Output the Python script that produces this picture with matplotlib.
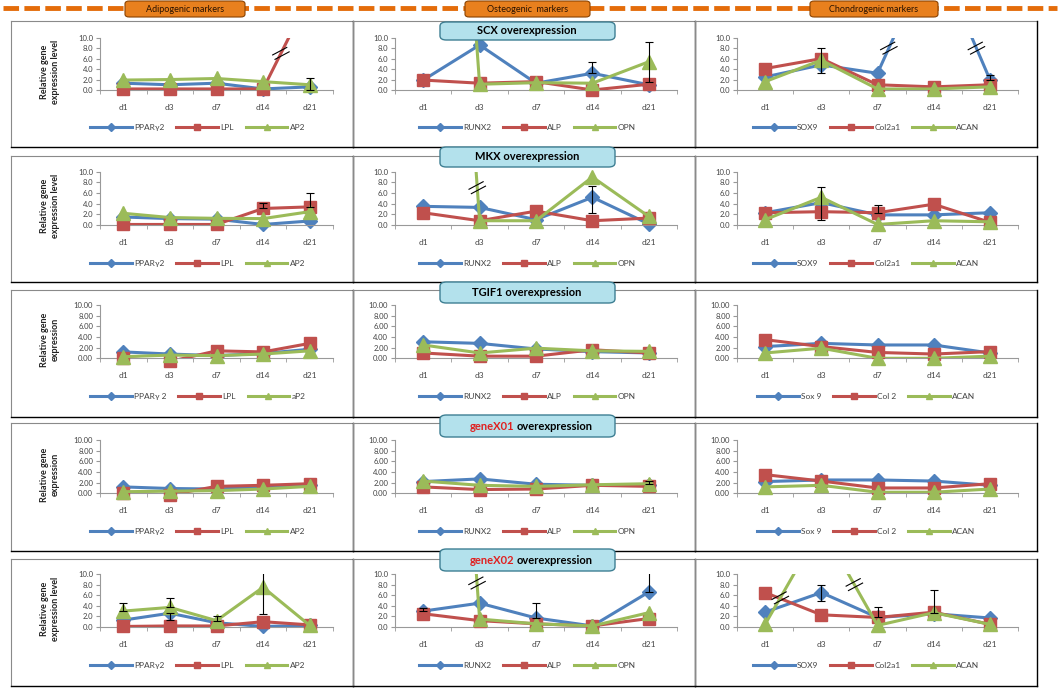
import matplotlib.pyplot as plt
from matplotlib.patches import FancyBboxPatch
from matplotlib.lines import Line2D
import numpy as np

plt.rcParams['font.family'] = ['Lato', 'DejaVu Sans']

W, H = 1060, 695

days = ["d1", "d3", "d7", "d14", "d21"]
genes = ["SCX", "MKX", "TGIF1", "geneX01", "geneX02"]
groups = ["Adipogenic markers", "Osteogenic  markers", "Chondrogenic markers"]

adipo_names = ["PPARγ2", "LPL", "AP2"]
adipo_names_b = ["PPARγ 2", "LPL", "aP2"]
osteo_names = ["RUNX2", "ALP", "OPN"]
chondro_names = ["SOX9", "Col2a1", "ACAN"]
chondro_names_b = ["Sox 9", "Col 2", "ACAN"]

# each panel: [blue series, red series, green series], values above 10 run off the chart
scx_adipo = [[1.3, 1.0, 1.3, 0.2, 0.6], [0.2, 0.2, 0.2, 0.2, 18.0], [1.9, 2.0, 2.2, 1.6, 1.0]]
scx_osteo = [[1.9, 8.6, 1.3, 3.2, 1.0], [1.9, 1.3, 1.6, 0.0, 1.1], [150.0, 1.1, 1.4, 1.3, 5.4]]
scx_chondro = [[2.5, 4.8, 3.2, 27.0, 2.0], [4.1, 6.0, 1.0, 0.6, 1.0], [1.6, 5.7, 0.2, 0.2, 0.6]]
mkx_adipo = [[1.5, 1.2, 1.1, 0.1, 0.75], [0.1, 0.1, 0.1, 3.1, 3.4], [2.2, 1.4, 1.25, 1.2, 2.5]]
mkx_osteo = [[3.5, 3.3, 1.0, 5.2, 0.2], [2.3, 0.8, 2.6, 0.8, 1.3], [150.0, 0.8, 0.8, 9.0, 1.6]]
mkx_chondro = [[2.3, 4.2, 1.9, 1.9, 2.3], [2.3, 2.5, 2.3, 3.9, 0.5], [1.0, 5.2, 0.1, 0.8, 0.6]]
tgif1_adipo = [[1.2, 0.8, 0.5, 0.9, 1.7], [0.0, -0.6, 1.4, 1.2, 2.8], [0.3, 0.6, 0.5, 0.8, 1.4]]
tgif1_osteo = [[3.1, 2.8, 1.75, 1.25, 1.0], [1.0, 0.4, 0.4, 1.6, 1.0], [2.5, 1.0, 1.9, 1.4, 1.3]]
tgif1_chondro = [[2.2, 2.8, 2.5, 2.5, 1.0], [3.5, 2.2, 1.1, 0.8, 1.25], [1.0, 1.9, 0.0, 0.0, 0.4]]
x01_adipo = [[1.2, 0.9, 0.8, 1.2, 1.6], [0.0, -0.3, 1.3, 1.5, 1.8], [0.3, 0.4, 0.5, 0.8, 1.3]]
x01_osteo = [[2.2, 2.7, 1.7, 1.5, 1.5], [1.2, 0.7, 0.8, 1.5, 1.3], [2.3, 1.5, 1.3, 1.6, 1.8]]
x01_chondro = [[2.2, 2.5, 2.5, 2.3, 1.5], [3.5, 2.3, 1.0, 1.0, 1.8], [1.2, 1.5, 0.2, 0.2, 0.8]]
x02_adipo = [[1.3, 2.6, 0.8, 0.1, 0.3], [0.1, 0.2, 0.2, 1.0, 0.4], [3.0, 3.7, 1.2, 7.5, 0.3]]
x02_osteo = [[3.0, 4.5, 1.7, 0.2, 6.6], [2.5, 1.2, 0.6, 0.2, 1.6], [150.0, 1.5, 0.6, 0.2, 2.7]]
x02_chondro = [[2.8, 6.5, 1.8, 2.5, 1.7], [6.5, 2.3, 1.8, 2.8, 0.5], [0.5, 19.0, 0.3, 2.7, 0.5]]

# error bars: (series, day index, minus, plus)
scx_adipo_err = [(2, 4, 1.0, 1.3)]
scx_osteo_err = [(0, 3, 0.0, 2.2), (2, 4, 3.8, 3.8)]
scx_chondro_err = [(1, 1, 2.8, 2.0), (0, 4, 0.0, 0.8)]
mkx_adipo_err = [(1, 3, 0.0, 1.0), (1, 4, 0.0, 2.6)]
mkx_osteo_err = [(0, 3, 2.9, 2.2)]
mkx_chondro_err = [(2, 1, 4.2, 1.9), (1, 2, 0.0, 1.4)]
x01_osteo_err = [(2, 4, 0.0, 0.5)]
x02_adipo_err = [(2, 0, 0.0, 1.5), (2, 1, 0.0, 1.8), (2, 2, 0.0, 0.9), (2, 3, 5.1, 4.0), (0, 1, 1.3, 0.0)]
x02_osteo_err = [(0, 0, 0.0, 0.6), (0, 2, 0.0, 2.8), (0, 4, 0.0, 4.0)]
x02_chondro_err = [(0, 1, 1.5, 1.5), (1, 2, 0.0, 2.0), (2, 3, 0.0, 4.3)]

# axis break marks: (series, segment start, value where the mark sits)
scx_adipo_brk = [(1, 3, 7.0)]
scx_chondro_brk = [(0, 2, 8.0), (0, 3, 8.0)]
mkx_osteo_brk = [(2, 0, 7.0)]
x02_osteo_brk = [(2, 0, 8.3)]
x02_chondro_brk = [(2, 0, 5.5), (2, 1, 8.0)]

panels = [
    [(scx_adipo, scx_adipo_err, scx_adipo_brk), (scx_osteo, scx_osteo_err, []), (scx_chondro, scx_chondro_err, scx_chondro_brk)],
    [(mkx_adipo, mkx_adipo_err, []), (mkx_osteo, mkx_osteo_err, mkx_osteo_brk), (mkx_chondro, mkx_chondro_err, [])],
    [(tgif1_adipo, [], []), (tgif1_osteo, [], []), (tgif1_chondro, [], [])],
    [(x01_adipo, [], []), (x01_osteo, x01_osteo_err, []), (x01_chondro, [], [])],
    [(x02_adipo, x02_adipo_err, []), (x02_osteo, x02_osteo_err, x02_osteo_brk), (x02_chondro, x02_chondro_err, x02_chondro_brk)],
]
names = [
    [adipo_names, osteo_names, chondro_names],
    [adipo_names, osteo_names, chondro_names],
    [adipo_names_b, osteo_names, chondro_names_b],
    [adipo_names, osteo_names, chondro_names_b],
    [adipo_names, osteo_names, chondro_names],
]

colors = ["#4F81BD", "#C0504D", "#9BBB59"]
markers = ["D", "s", "^"]
msizes = [7.5, 8.5, 10]

col_x = [(100, 333), (395, 677), (737, 1018)]
row_y = [(37.7, 90), (171.7, 225), (305, 358.3), (440, 493.3), (574, 627)]
frame_y = [(21, 147), (156, 282), (290, 417), (423, 551), (559, 686)]
frame_x = [11, 353, 695, 1037]
legend_x = [0.42, 0.47, 0.46]


def px(x, y):
    return x / W, 1 - y / H


fig = plt.figure(figsize=(W / 100, H / 100), dpi=100)


def fig_line(x0, y0, x1, y1, **kw):
    a = px(x0, y0)
    b = px(x1, y1)
    fig.add_artist(Line2D([a[0], b[0]], [a[1], b[1]], transform=fig.transFigure, **kw))


# frames
for r, (t, b) in enumerate(frame_y):
    for c in range(3):
        l, rr = frame_x[c], frame_x[c + 1]
        fig_line(l, t, rr, t, color="#8a8a8a", lw=0.8)
        fig_line(l, t, l, b, color="#8a8a8a", lw=0.8)
        fig_line(rr, t, rr, b, color="black", lw=1.0)
        fig_line(l, b, rr, b, color="black", lw=1.0)

x = np.arange(len(days))
for r in range(5):
    for c in range(3):
        vals, errs, brks = panels[r][c]
        x0, x1 = col_x[c]
        yt, yb = row_y[r]
        l, btm = px(x0, yb)
        ax = fig.add_axes([l, btm, (x1 - x0) / W, (yb - yt) / H])
        ax.set_xlim(-0.5, 4.5)
        ax.set_ylim(0, 10)
        for s in ("top", "right"):
            ax.spines[s].set_visible(False)
        for s in ("left", "bottom"):
            ax.spines[s].set_color("#999999")
            ax.spines[s].set_linewidth(0.8)
        ax.set_yticks(np.arange(0, 11, 2))
        fmt = "{:.2f}" if r in (2, 3) else "{:.1f}"
        ax.set_yticklabels([fmt.format(v) for v in np.arange(0, 11, 2)])
        ax.set_xticks(x)
        ax.set_xticklabels(days)
        ax.set_xticks(np.arange(-0.5, 5, 1), minor=True)
        ax.tick_params(axis="x", which="major", length=0, pad=10, labelsize=6, labelcolor="#444444")
        ax.tick_params(axis="x", which="minor", length=3, color="#999999")
        ax.tick_params(axis="y", length=3, color="#999999", labelsize=5.5, labelcolor="#444444", pad=2)
        ax.patch.set_alpha(0)

        handles = []
        for i, v in enumerate(vals):
            v = np.array(v, dtype=float)
            ax.plot(x, v, color=colors[i], lw=2.2, zorder=2 + i)
            vm = np.where(v <= 10.5, v, np.nan)
            ax.plot(x, vm, ls="none", marker=markers[i], ms=msizes[i], color=colors[i],
                    mec=colors[i], clip_on=False, zorder=2 + i)
            handles.append(Line2D([], [], color=colors[i], lw=2.2, marker=markers[i], ms=4))
        for s, d, lo, up in errs:
            ax.errorbar([d], [vals[s][d]], yerr=[[lo], [up]], fmt="none", ecolor="black",
                        elinewidth=0.8, capsize=3, capthick=0.8, zorder=6)
        for s, seg, yv in brks:
            ya, yb2 = vals[s][seg], vals[s][seg + 1]
            xb = seg + (yv - ya) / (yb2 - ya)
            cx, cy = ax.transData.transform((xb, yv))
            ang = np.radians(28)
            dx, dy = 8 * np.cos(ang), 8 * np.sin(ang)
            nx, ny = -np.sin(ang) * 2.5, np.cos(ang) * 2.5
            for k in (-1, 1):
                pts = np.array([[cx - dx + k * nx, cy - dy + k * ny], [cx + dx + k * nx, cy + dy + k * ny]])
                fp = fig.transFigure.inverted().transform(pts)
                fig.add_artist(Line2D(fp[:, 0], fp[:, 1], transform=fig.transFigure, color="black", lw=0.8, zorder=10))

        ax.legend(handles, names[r][c], loc="center", bbox_to_anchor=(legend_x[c], -0.72), ncol=3,
                  frameon=False, fontsize=6, handlelength=5, columnspacing=1.4, handletextpad=0.3,
                  labelcolor="#444444")

        if c == 0:
            lab = "Relative gene\nexpression" if r in (2, 3) else "Relative gene\nexpression level"
            tx, ty = px(50, (yt + yb) / 2 + 8)
            fig.text(tx, ty, lab, rotation=90, ha="center", va="center", fontsize=6.5,
                     fontweight="bold", color="#222222", linespacing=1.3)

# header: dashed orange line and group buttons
fig_line(3, 8, 1057, 8, color="#E46C0A", lw=3.5, ls=(0, (3.2, 1.1)), zorder=1)
btn_x = [(125, 245), (465, 590), (810, 938)]
for (bx0, bx1), g in zip(btn_x, groups):
    l, b = px(bx0, 17)
    box = FancyBboxPatch((l, b), (bx1 - bx0) / W, 16 / H, boxstyle="round,pad=0,rounding_size=0.004",
                         transform=fig.transFigure, facecolor="#E8801E", edgecolor="#8A4200", lw=0.8, zorder=3)
    fig.add_artist(box)
    tx, ty = px((bx0 + bx1) / 2, 9)
    fig.text(tx, ty, g, ha="center", va="center", fontsize=6.5, color="#2a1200", zorder=4)

# overexpression title boxes
title_y = [(22, 40), (147, 167), (282, 303), (415, 437), (549, 571)]
for g, (ty0, ty1) in zip(genes, title_y):
    l, b = px(440, ty1)
    box = FancyBboxPatch((l, b), 175 / W, (ty1 - ty0) / H, boxstyle="round,pad=0,rounding_size=0.006",
                         transform=fig.transFigure, facecolor="#B3E1EC", edgecolor="#3E7F93", lw=1.0, zorder=3)
    fig.add_artist(box)
    cy = (ty0 + ty1) / 2
    if g.startswith("geneX"):
        tx, tyy = px(514, cy)
        fig.text(tx, tyy, g, ha="right", va="center", fontsize=8, fontweight="bold", color="#E02020", zorder=4)
        tx, tyy = px(517, cy)
        fig.text(tx, tyy, "overexpression", ha="left", va="center", fontsize=8, fontweight="bold", color="black", zorder=4)
    else:
        tx, tyy = px(527, cy)
        fig.text(tx, tyy, g + " overexpression", ha="center", va="center", fontsize=8, fontweight="bold",
                 color="black", zorder=4)

fig.savefig("out.png", dpi=100)
